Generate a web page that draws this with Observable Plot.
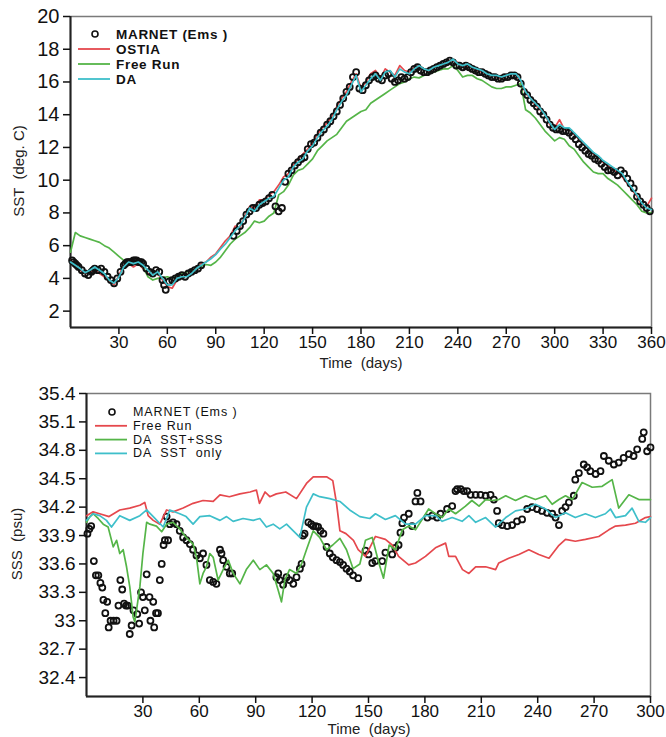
<!DOCTYPE html>
<html><head><meta charset="utf-8">
<script src="https://cdn.jsdelivr.net/npm/d3@7"></script>
<script src="https://cdn.jsdelivr.net/npm/@observablehq/plot@0.6"></script>
<style>
body{margin:0;background:#fff;}
#wrap{position:relative;width:666px;height:737px;overflow:hidden;font-family:"Liberation Sans",Arial,sans-serif;}
#wrap svg{display:block;}
#overlay{position:absolute;left:0;top:0;pointer-events:none;}
</style></head><body><div id="wrap"></div>
<script>
// ---------- SST panel (top) ----------
const sstYTicks = [2,4,6,8,10,12,14,16,18,20];
const sstXTicks = [30,60,90,120,150,180,210,240,270,300,330,360];
const sstDays = d3.range(0, 361, 3);
const sstDA = [5.0,4.8,4.6,4.35,4.5,4.7,4.5,4.3,3.9,3.7,
4.1,4.7,5.0,4.9,5.0,4.8,4.5,4.2,4.4,4.0,
3.6,3.6,4.0,4.1,4.1,4.3,4.6,4.8,5.0,5.2,
5.45,5.8,6.1,6.5,6.9,7.2,7.7,8.3,8.1,8.5,
8.7,8.9,9.0,9.5,10.0,10.2,10.8,11.1,11.3,11.8,
12.1,12.6,13.0,13.3,13.7,14.3,14.8,15.2,15.8,16.4,
15.4,15.8,16.2,16.5,16.1,16.6,16.7,16.3,16.8,16.6,
16.5,16.8,17.0,16.8,16.7,16.9,17.0,17.1,17.2,17.4,
17.1,17.0,17.1,16.9,16.8,16.7,16.5,16.4,16.4,16.3,
16.4,16.5,16.5,16.1,15.4,15.0,14.7,14.4,14.0,13.5,
13.1,13.4,13.2,13.2,12.9,12.6,12.3,12.0,11.7,11.5,
11.2,11.0,10.8,10.6,10.4,9.9,9.5,9.1,8.6,8.3,
8.2];
const sstOSTIA = [5.1,4.9,4.5,4.3,4.4,4.5,4.3,4.1,3.9,3.6,
4.2,4.8,4.9,4.7,4.9,4.6,4.3,4.3,4.3,3.9,
3.5,3.4,3.9,4.0,4.2,4.4,4.6,4.9,5.0,5.3,
5.5,5.9,6.3,6.6,7.2,7.1,7.8,8.4,8.3,8.8,
8.8,9.1,9.3,9.7,10.2,10.4,10.9,11.3,11.6,11.9,
12.3,12.8,13.2,13.5,13.9,14.5,15.0,15.4,16.0,16.5,
15.6,16.0,16.5,16.7,16.2,16.8,16.6,16.4,17.0,16.7,
16.6,16.9,17.0,16.8,16.6,16.8,17.1,17.1,17.3,17.3,
17.2,16.9,17.0,16.9,16.7,16.6,16.5,16.4,16.3,16.2,
16.4,16.5,16.4,16.0,15.3,15.0,14.6,14.3,14.0,13.4,
13.2,13.7,13.1,13.1,12.8,12.5,12.2,11.9,11.6,11.4,
11.1,10.9,10.6,10.5,10.2,9.8,9.4,9.0,8.5,8.4,
8.9];
const sstFree = [5.6,6.8,6.6,6.5,6.4,6.3,6.2,6.0,5.85,5.6,
5.35,5.1,4.95,4.9,4.85,4.7,4.1,3.9,4.0,4.05,
4.1,4.0,4.2,4.3,4.4,4.5,4.6,4.75,4.85,4.8,
5.0,5.3,5.7,6.1,6.4,6.6,6.8,7.1,7.5,7.4,
7.5,7.8,8.0,9.1,9.3,9.7,10.3,10.6,10.7,11.0,
11.3,11.8,12.1,12.4,12.6,12.8,13.2,13.6,13.8,14.0,
14.2,14.3,14.7,14.9,15.1,15.3,15.5,15.7,15.9,16.0,
16.2,16.3,16.25,16.4,16.5,16.6,16.7,16.8,16.8,17.0,
16.7,16.3,16.4,16.4,16.2,16.1,15.9,15.7,15.6,15.6,
15.7,15.7,15.8,15.9,14.3,14.1,13.8,13.4,13.0,12.7,
12.4,12.6,12.5,12.1,11.9,11.5,11.1,10.8,10.5,10.4,
10.4,10.1,9.9,9.7,9.4,9.1,8.8,8.5,8.1,8.0,
8.0];
const sstMarnet = [[1,5.1],[2,5.0],[3,4.9],[4,4.8],[5,4.7],[7,4.5],[9,4.3],[11,4.2],[13,4.4],[14,4.5],[15,4.6],[17,4.5],[19,4.6],
[21,4.4],[23,4.1],[25,3.9],[27,3.7],[29,4.0],[31,4.4],[33,4.8],[34,4.9],[35,5.0],[36,5.0],[37,5.0],[38,5.0],[39,5.1],
[40,5.1],[41,5.1],[42,5.0],[43,5.0],[44,5.0],[45,4.9],[47,4.6],[49,4.4],[51,4.3],[53,4.5],[55,4.4],[57,3.9],[58,3.6],
[59,3.3],[61,3.8],[63,3.9],[65,4.0],[67,4.1],[69,4.2],[71,4.1],[73,4.3],[75,4.4],[77,4.5],
[79,4.6],[81,4.8],
[101,6.6],[103,6.9],[105,7.2],[107,7.5],[109,7.9],[111,8.1],[113,8.3],[115,8.3],[117,8.5],[119,8.6],
[121,8.7],[123,8.9],[125,9.1],[127,8.4],[129,8.1],[131,8.3],[133,9.9],[135,10.4],[137,10.6],[139,10.9],
[141,11.1],[143,11.3],[145,11.4],[147,11.9],[149,12.2],[151,12.3],[153,12.6],[155,12.9],[157,13.1],[159,13.4],
[161,13.6],[163,13.9],[165,14.2],[167,14.6],[169,15.0],[171,15.4],[173,15.7],[175,16.3],[177,16.6],[179,15.6],
[181,15.5],[183,15.8],[185,16.1],[187,16.3],[189,16.4],[191,16.2],[193,16.1],[195,16.4],[197,16.5],[199,16.2],
[201,16.0],[203,16.1],[205,16.3],[207,16.2],[209,16.3],[211,16.6],[213,16.8],[215,16.9],[217,16.7],[219,16.6],
[221,16.6],[223,16.7],[225,16.8],[227,16.9],[229,17.0],[231,17.1],[233,17.2],[235,17.3],[237,17.2],[239,17.0],
[241,17.0],[243,16.9],[245,17.0],[247,16.9],[249,16.8],[251,16.7],[253,16.6],[255,16.6],[257,16.5],[259,16.4],
[261,16.3],[263,16.3],[265,16.2],[267,16.2],[269,16.3],[271,16.3],[273,16.4],[275,16.4],[277,16.3],[279,15.9],
[281,15.4],[283,15.2],[285,14.9],[287,14.7],[289,14.5],[291,14.2],[293,14.0],[295,13.7],[297,13.4],[299,13.2],
[301,13.1],[303,13.1],[305,13.0],[307,13.0],[309,12.9],[311,12.7],[313,12.5],[315,12.2],[317,12.0],[319,11.8],
[321,11.6],[323,11.5],[325,11.3],[327,11.2],[329,11.0],[331,10.8],[333,10.6],[335,10.6],[337,10.5],[339,10.3],
[341,10.6],[343,10.4],[345,10.1],[347,9.8],[349,9.5],[351,9.0],[353,8.7],[355,8.5],[357,8.3],[359,8.1]];

// ---------- SSS panel (bottom) ----------
const sssYTicks = [32.4,32.7,33,33.3,33.6,33.9,34.2,34.5,34.8,35.1,35.4];
const sssXTicks = [30,60,90,120,150,180,210,240,270,300];
const sssFree = [[0,34.11],[3.5,34.15],[7,34.13],[12,34.10],[17.7,34.17],[23,34.19],[28.4,34.22],[31,34.25],[32.8,34.11],[35.5,34.06],
[39,34.02],[42.6,34.17],[46,34.15],[51.4,34.19],[56.7,34.24],[62,34.27],[67.4,34.26],[71,34.33],[76,34.31],[81.6,34.34],
[87,34.36],[90.4,34.38],[92,34.24],[95,34.36],[97.5,34.31],[101,34.34],[106,34.36],[111.7,34.29],[117,34.45],[120.6,34.52],
[127.7,34.52],[131,34.48],[133,34.24],[134.8,33.95],[138,33.92],[142,33.85],[144.5,33.75],[148.4,33.68],[153.7,33.89],[159,33.86],
[162.6,33.80],[166,33.68],[171.4,33.59],[175,33.61],[180.3,33.68],[185.6,33.77],[191,33.82],[192.7,33.68],[196.3,33.68],[200,33.54],
[203.4,33.50],[207,33.57],[212.3,33.57],[217.6,33.54],[219.3,33.61],[224.6,33.66],[230,33.70],[235.3,33.75],[240.6,33.70],[246,33.66],
[251,33.79],[254.8,33.86],[260,33.84],[265.4,33.86],[272.5,33.89],[277.8,33.96],[281.4,34.00],[286.7,34.01],[292,34.03],[297.3,34.09],[300,34.10]];
const sssDAboth = [[0,34.04],[1.8,34.10],[3.5,34.13],[6.2,34.08],[8.9,34.02],[11.5,33.99],[14.2,33.78],[16,33.85],[17.7,33.71],[19.5,33.75],
[21.3,33.57],[23,33.36],[24.8,33.04],[25.7,32.99],[26.6,33.11],[28.4,33.36],[30,33.71],[32,34.04],[33.7,34.02],[37.2,34.00],
[40,33.94],[42.6,34.02],[46,34.04],[49.6,33.97],[53,33.88],[56.7,33.81],[58.5,33.67],[60.3,33.39],[62,33.50],[63.8,33.57],
[65.6,33.71],[67.4,33.67],[70,33.43],[72.7,33.54],[75.4,33.64],[78,33.50],[81.6,33.39],[85,33.54],[88.7,33.64],[92.2,33.54],
[95.7,33.59],[99.3,33.50],[102,33.32],[103.7,33.20],[105.5,33.43],[108,33.54],[111.7,33.50],[114.4,33.60],[117,33.75],[120.6,33.95],
[124,33.88],[127.7,33.75],[131,33.80],[134.8,33.87],[138.3,33.75],[141.8,33.55],[145.4,33.60],[148.4,33.85],[152,33.88],[155.5,33.61],
[158,33.45],[161,33.80],[164.3,33.75],[168,33.96],[171.4,34.00],[175,33.96],[178.5,34.07],[182,34.18],[185.6,34.13],[189.2,34.09],
[192.7,34.18],[196.3,34.13],[201.6,34.21],[205,34.27],[208.8,34.21],[212.3,34.28],[215.8,34.27],[219.3,34.28],[223,34.32],[228.2,34.27],
[233.5,34.32],[238.8,34.28],[244.2,34.32],[247.7,34.23],[251.3,34.28],[254.8,34.32],[258.4,34.28],[263.6,34.46],[269,34.41],[274.3,34.42],
[279.6,34.49],[283.1,34.19],[288.5,34.33],[293.8,34.28],[300,34.28]];
const sssDASST = [[0,34.06],[3.5,34.13],[7,34.11],[10.6,34.06],[13.3,33.99],[17.7,34.11],[23,34.06],[28.4,34.11],[32,34.17],[35.5,34.10],
[40.8,33.99],[44.3,34.17],[49.6,34.13],[53,34.10],[56.7,34.02],[60.3,34.10],[65.6,34.11],[71,34.06],[74.5,34.10],[78,34.05],
[83.3,34.08],[88.7,34.06],[92.2,34.08],[95.7,33.99],[99.3,34.02],[102.8,33.97],[106.4,34.02],[110,33.95],[113.5,33.88],[117,34.20],
[120.6,34.34],[124,34.31],[129.4,34.29],[134.8,34.26],[140,34.17],[145.4,34.10],[150.7,34.08],[153.7,34.13],[159,34.07],[164.3,34.11],
[169.7,34.02],[175,34.02],[180.3,34.11],[185.6,34.11],[189.2,34.05],[194.5,34.09],[199.8,34.05],[203.4,34.11],[207,34.04],[212.3,34.09],
[217.6,33.99],[223,34.09],[228.2,34.16],[233.5,34.18],[238.8,34.23],[244.2,34.18],[249.5,34.09],[254.8,34.14],[260,34.09],[265.4,34.13],
[270.7,34.09],[276,34.13],[278.7,34.18],[281.4,34.09],[286.7,34.11],[290.2,34.19],[293.8,34.05],[297.3,34.04],[300,34.09]];
const sssMarnet = [[0.5,33.92],[1.5,33.97],[2.5,34.0],[3.9,33.63],[5,33.48],[6.3,33.48],[7.4,33.40],[8.4,33.35],[9,33.22],[10,33.08],
[11,33.20],[11.8,32.93],[12.8,33.0],[14.4,33.0],[16,33.0],[17,33.16],[18,33.43],[19,33.33],[20,33.18],[21,33.16],
[22,33.16],[23,32.86],[24,32.95],[25,33.11],[27,33.07],[28,32.97],[29,33.3],[30,33.25],[31,33.11],[32,33.49],
[33.5,33.25],[34,33.0],[35.5,33.2],[36,32.93],[37,33.08],[38,33.08],[39,33.43],[40,33.6],[41,33.8],[41.7,33.85],
[42.6,34.10],[43.4,33.85],[44.3,34.02],[46,34.04],[47.9,34.02],[49.6,33.95],[51.4,33.88],[53.2,33.85],[55,33.81],[56.7,33.75],
[58.5,33.69],[60.3,33.66],[62,33.71],[63.8,33.59],[65.6,33.43],[67.4,33.41],[69.1,33.39],[71,33.75],[71.8,33.71],[72.7,33.64],
[74.5,33.57],[76.2,33.50],[77.5,33.50],
[101,33.46],[102,33.50],[102.8,33.43],[104.6,33.38],[106.4,33.46],[108,33.43],[110,33.39],[111.7,33.46],[113.5,33.55],[114.4,33.60],
[115.2,33.90],[116,33.92],[118,34.04],[119.5,34.02],[120.6,34.00],[122,34.0],[123.2,33.99],[124.5,33.95],[126,33.92],[127.7,33.78],
[129.4,33.71],[131,33.67],[133,33.64],[134.8,33.62],[136.5,33.59],[138.3,33.55],[140,33.52],[141.8,33.48],[144.5,33.45],[148.4,33.74],
[150,33.70],[152,33.61],[153.7,33.63],[157.3,33.63],[159,33.72],[162.6,33.70],[164.3,33.77],[166,33.80],[167,33.93],[168,34.03],
[168.9,34.09],[171.4,34.13],[173.2,34.00],[175,34.26],[176,34.35],[177.7,34.26],[181.3,34.09],[183.9,34.11],[186.5,34.09],[188.3,34.13],
[191.8,34.18],[194.5,34.21],[196.3,34.37],[197.2,34.39],[199,34.39],[200.7,34.37],[202.5,34.37],[204.3,34.33],[207,34.33],[209.6,34.33],
[212.3,34.32],[214.9,34.33],[216.7,34.28],[218.4,34.16],[219.3,34.03],[221.1,34.01],[223.8,34.00],[226.4,34.01],[229,34.05],[231.7,34.07],
[234.4,34.18],[237,34.20],[239.7,34.18],[242.3,34.16],[245,34.14],[247.7,34.13],[249.5,34.09],[251.3,34.01],[253,34.16],[254.8,34.20],
[256.6,34.25],[259.2,34.32],[260,34.49],[261.9,34.56],[264.5,34.65],[266.3,34.62],[268,34.58],[270.8,34.55],[273.4,34.58],[275.2,34.74],
[277.8,34.69],[280.5,34.65],[283.1,34.67],[285.7,34.72],[288.5,34.76],[291,34.74],[292.9,34.81],[295.6,34.92],[296.4,34.99],[298.2,34.79],
[300,34.83]];

const sstLegend = ["MARNET (Ems )", "OSTIA", "Free Run", "DA"];
const sssLegend = ["MARNET (Ems )", "Free Run", "DA  SST+SSS", "DA  SST  only"];

const RED = "#e5484d", GREEN = "#55b548", CYAN = "#3ebfca";
const FONT = "Liberation Sans, Arial, sans-serif";

const toRows = (days, vals) => days.map((d, i) => ({day: d, v: vals[i]}));
const pairRows = (arr) => arr.map(([d, v]) => ({day: d, v}));

const sstPlot = Plot.plot({
  width: 666, height: 370,
  marginTop: 16, marginBottom: 43, marginLeft: 70, marginRight: 15,
  x: {domain: [0, 360]},
  y: {domain: [1, 20]},
  style: {fontFamily: FONT, background: "white", color: "#111", overflow: "visible"},
  marks: [
    Plot.frame({stroke: "#7a7a7a", strokeWidth: 1.5}),
    Plot.ruleX([0], {stroke: "#222", strokeWidth: 2}),
    Plot.ruleY([1], {stroke: "#222", strokeWidth: 2}),
    Plot.axisY({ticks: sstYTicks, tickSize: 7, tickPadding: 4, fontSize: 20, label: null, strokeWidth: 1.5}),
    Plot.axisX({ticks: sstXTicks, tickSize: 7, tickPadding: 1, fontSize: 17, label: null, strokeWidth: 1.5}),
    Plot.line(toRows(sstDays, sstOSTIA), {x: "day", y: "v", stroke: RED, strokeWidth: 1.7}),
    Plot.line(toRows(sstDays, sstFree), {x: "day", y: "v", stroke: GREEN, strokeWidth: 1.7}),
    Plot.dot(pairRows(sstMarnet), {x: "day", y: "v", r: 3, stroke: "#111", strokeWidth: 1.8, fill: "none"}),
    Plot.line(toRows(sstDays, sstDA), {x: "day", y: "v", stroke: CYAN, strokeWidth: 1.7})
  ]
});

const sssPlot = Plot.plot({
  width: 666, height: 367,
  marginTop: 23, marginBottom: 41, marginLeft: 86, marginRight: 16,
  x: {domain: [0, 300]},
  y: {domain: [32.2, 35.4]},
  style: {fontFamily: FONT, background: "white", color: "#111", overflow: "visible"},
  marks: [
    Plot.frame({stroke: "#7a7a7a", strokeWidth: 1.5}),
    Plot.ruleX([0], {stroke: "#222", strokeWidth: 2}),
    Plot.ruleY([32.2], {stroke: "#222", strokeWidth: 2}),
    Plot.axisY({ticks: sssYTicks, tickSize: 7, tickPadding: 4, fontSize: 19, label: null, strokeWidth: 1.5, tickFormat: d => String(d)}),
    Plot.axisX({ticks: sssXTicks, tickSize: 7, tickPadding: 1, fontSize: 17, label: null, strokeWidth: 1.5}),
    Plot.dot(pairRows(sssMarnet), {x: "day", y: "v", r: 3, stroke: "#111", strokeWidth: 1.8, fill: "none"}),
    Plot.line(pairRows(sssFree), {x: "day", y: "v", stroke: RED, strokeWidth: 1.7}),
    Plot.line(pairRows(sssDAboth), {x: "day", y: "v", stroke: GREEN, strokeWidth: 1.7}),
    Plot.line(pairRows(sssDASST), {x: "day", y: "v", stroke: CYAN, strokeWidth: 1.7})
  ]
});

const wrap = document.getElementById("wrap");
wrap.appendChild(sstPlot);
wrap.appendChild(sssPlot);

// overlay: axis titles and legends
const ov = d3.select(wrap).append("svg").attr("id", "overlay")
  .attr("width", 666).attr("height", 737)
  .style("font-family", FONT);

function title(x, y, txt, rot) {
  const t = ov.append("text").attr("x", x).attr("y", y).attr("text-anchor", "middle")
    .attr("dominant-baseline", "central").attr("font-size", 15).attr("fill", "#222")
    .style("white-space", "pre").text(txt);
  if (rot) t.attr("transform", `rotate(-90 ${x} ${y})`);
}
title(361, 362, "Time  (days)");
title(18, 171, "SST  (deg. C)", true);
title(369, 728, "Time  (days)");
title(16, 544, "SSS  (psu)", true);

function legend(x0, y0, dy, labels, colors, weight, fs, ls) {
  labels.forEach((lab, i) => {
    const y = y0 + i * dy;
    if (i === 0) {
      ov.append("circle").attr("cx", x0 + 17).attr("cy", y).attr("r", 3)
        .attr("fill", "none").attr("stroke", "#111").attr("stroke-width", 1.6);
    } else {
      ov.append("line").attr("x1", x0).attr("x2", x0 + 32).attr("y1", y).attr("y2", y)
        .attr("stroke", colors[i]).attr("stroke-width", 1.8);
    }
    ov.append("text").attr("x", x0 + 38).attr("y", y).attr("dominant-baseline", "central")
      .attr("font-size", fs).attr("font-weight", weight).attr("fill", "#111")
      .attr("letter-spacing", ls)
      .style("white-space", "pre").text(lab);
  });
}
legend(78, 34, 15, sstLegend, [null, RED, GREEN, CYAN], "bold", 13.5, 0.7);
legend(95, 412, 13.8, sssLegend, [null, RED, GREEN, CYAN], "normal", 12.5, 0.9);
</script></body></html>
